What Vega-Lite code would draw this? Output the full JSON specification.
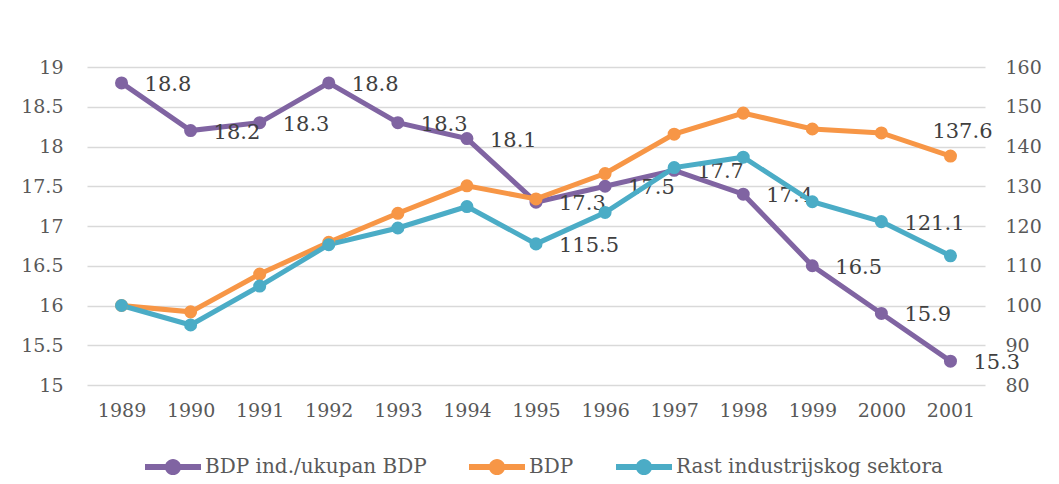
{
  "$schema": "https://vega.github.io/schema/vega-lite/v6.json",
  "width": 898,
  "height": 318,
  "autosize": {"type": "none"},
  "padding": {"left": 87, "top": 67, "right": 74, "bottom": 99},
  "background": "white",
  "config": {
    "view": {"stroke": null},
    "font": "DejaVu Serif",
    "legend": {
      "orient": "none",
      "legendX": 58,
      "legendY": 372,
      "direction": "horizontal",
      "columns": 3,
      "title": null,
      "padding": 0,
      "labelFont": "DejaVu Serif",
      "labelFontSize": 20,
      "labelColor": "#595959",
      "labelLimit": 0,
      "labelOffset": 4,
      "columnPadding": 42,
      "symbolSize": 3136,
      "symbolStrokeWidth": 0,
      "symbolOpacity": 1,
      "symbolType": "M-1,-0.107L1,-0.107L1,0.107L-1,0.107Z M0.29,0A0.29,0.29,0,1,1,-0.29,0A0.29,0.29,0,1,1,0.29,0Z"
    }
  },
  "data": {
    "values": [
      {"year": "1989", "series": "BDP ind./ukupan BDP", "value": 18.8},
      {"year": "1990", "series": "BDP ind./ukupan BDP", "value": 18.2},
      {"year": "1991", "series": "BDP ind./ukupan BDP", "value": 18.3},
      {"year": "1992", "series": "BDP ind./ukupan BDP", "value": 18.8},
      {"year": "1993", "series": "BDP ind./ukupan BDP", "value": 18.3},
      {"year": "1994", "series": "BDP ind./ukupan BDP", "value": 18.1},
      {"year": "1995", "series": "BDP ind./ukupan BDP", "value": 17.3},
      {"year": "1996", "series": "BDP ind./ukupan BDP", "value": 17.5},
      {"year": "1997", "series": "BDP ind./ukupan BDP", "value": 17.7},
      {"year": "1998", "series": "BDP ind./ukupan BDP", "value": 17.4},
      {"year": "1999", "series": "BDP ind./ukupan BDP", "value": 16.5},
      {"year": "2000", "series": "BDP ind./ukupan BDP", "value": 15.9},
      {"year": "2001", "series": "BDP ind./ukupan BDP", "value": 15.3},
      {"year": "1989", "series": "BDP", "value": 100},
      {"year": "1990", "series": "BDP", "value": 98.4},
      {"year": "1991", "series": "BDP", "value": 107.9},
      {"year": "1992", "series": "BDP", "value": 115.9},
      {"year": "1993", "series": "BDP", "value": 123.2},
      {"year": "1994", "series": "BDP", "value": 130.1},
      {"year": "1995", "series": "BDP", "value": 126.8},
      {"year": "1996", "series": "BDP", "value": 133.2},
      {"year": "1997", "series": "BDP", "value": 143.1},
      {"year": "1998", "series": "BDP", "value": 148.4},
      {"year": "1999", "series": "BDP", "value": 144.4},
      {"year": "2000", "series": "BDP", "value": 143.4},
      {"year": "2001", "series": "BDP", "value": 137.6},
      {"year": "1989", "series": "Rast industrijskog sektora", "value": 100},
      {"year": "1990", "series": "Rast industrijskog sektora", "value": 95.1},
      {"year": "1991", "series": "Rast industrijskog sektora", "value": 104.9},
      {"year": "1992", "series": "Rast industrijskog sektora", "value": 115.3},
      {"year": "1993", "series": "Rast industrijskog sektora", "value": 119.5},
      {"year": "1994", "series": "Rast industrijskog sektora", "value": 124.9},
      {"year": "1995", "series": "Rast industrijskog sektora", "value": 115.5},
      {"year": "1996", "series": "Rast industrijskog sektora", "value": 123.4},
      {"year": "1997", "series": "Rast industrijskog sektora", "value": 134.7},
      {"year": "1998", "series": "Rast industrijskog sektora", "value": 137.3},
      {"year": "1999", "series": "Rast industrijskog sektora", "value": 126.1},
      {"year": "2000", "series": "Rast industrijskog sektora", "value": 121.1},
      {"year": "2001", "series": "Rast industrijskog sektora", "value": 112.5}
    ]
  },
  "encoding": {
    "x": {
      "field": "year",
      "type": "ordinal",
      "scale": {"type": "point", "padding": 0.5},
      "axis": {
        "title": null,
        "labelAngle": 0,
        "labelFont": "DejaVu Serif",
        "labelFontSize": 19,
        "labelColor": "#595959",
        "labelPadding": 16,
        "domain": false,
        "ticks": false,
        "grid": false
      }
    }
  },
  "layer": [
    {
      "transform": [{"filter": "datum.series === 'BDP ind./ukupan BDP'"}],
      "encoding": {
        "y": {
          "field": "value",
          "type": "quantitative",
          "scale": {"domain": [15, 19], "nice": false, "zero": false},
          "axis": {
            "orient": "left",
            "title": null,
            "values": [15, 15.5, 16, 16.5, 17, 17.5, 18, 18.5, 19],
            "format": "~g",
            "grid": true,
            "gridColor": "#d9d9d9",
            "gridWidth": 1.5,
            "domain": false,
            "ticks": false,
            "labelPadding": 24,
            "labelFont": "DejaVu Serif",
            "labelFontSize": 19,
            "labelColor": "#595959"
          }
        }
      },
      "layer": [
        {
          "mark": {"type": "line", "strokeWidth": 5},
          "encoding": {
            "color": {
              "field": "series",
              "type": "nominal",
              "scale": {
                "domain": ["BDP ind./ukupan BDP", "BDP", "Rast industrijskog sektora"],
                "range": ["#8064A2", "#F79646", "#4BACC6"]
              }
            }
          }
        },
        {
          "mark": {"type": "point", "filled": true, "size": 170, "opacity": 1},
          "encoding": {
            "color": {"field": "series", "type": "nominal"}
          }
        },
        {
          "mark": {"type": "text", "align": "left", "baseline": "middle", "dx": 23, "dy": 2, "fontSize": 21, "color": "#404040", "font": "DejaVu Serif"},
          "encoding": {"text": {"field": "value", "type": "quantitative", "format": ".1f"}}
        }
      ]
    },
    {
      "transform": [{"filter": "datum.series !== 'BDP ind./ukupan BDP'"}],
      "encoding": {
        "y": {
          "field": "value",
          "type": "quantitative",
          "scale": {"domain": [80, 160], "nice": false, "zero": false},
          "axis": {
            "orient": "right",
            "title": null,
            "values": [80, 90, 100, 110, 120, 130, 140, 150, 160],
            "grid": false,
            "domain": false,
            "ticks": false,
            "labelPadding": 20,
            "labelFont": "DejaVu Serif",
            "labelFontSize": 19,
            "labelColor": "#595959"
          }
        }
      },
      "layer": [
        {
          "mark": {"type": "line", "strokeWidth": 5},
          "encoding": {"color": {"field": "series", "type": "nominal"}}
        },
        {
          "mark": {"type": "point", "filled": true, "size": 170, "opacity": 1},
          "encoding": {"color": {"field": "series", "type": "nominal"}}
        },
        {
          "transform": [{"filter": "datum.series === 'Rast industrijskog sektora' && (datum.year === '1995' || datum.year === '2000')"}],
          "mark": {"type": "text", "align": "left", "baseline": "middle", "dx": 23, "dy": 2, "fontSize": 21, "color": "#404040", "font": "DejaVu Serif"},
          "encoding": {"text": {"field": "value", "type": "quantitative", "format": ".1f"}}
        },
        {
          "transform": [{"filter": "datum.series === 'BDP' && datum.year === '2001'"}],
          "mark": {"type": "text", "align": "center", "baseline": "middle", "dx": 12, "dy": -24, "fontSize": 21, "color": "#404040", "font": "DejaVu Serif"},
          "encoding": {"text": {"field": "value", "type": "quantitative", "format": ".1f"}}
        }
      ]
    }
  ],
  "resolve": {"scale": {"y": "independent"}}
}
